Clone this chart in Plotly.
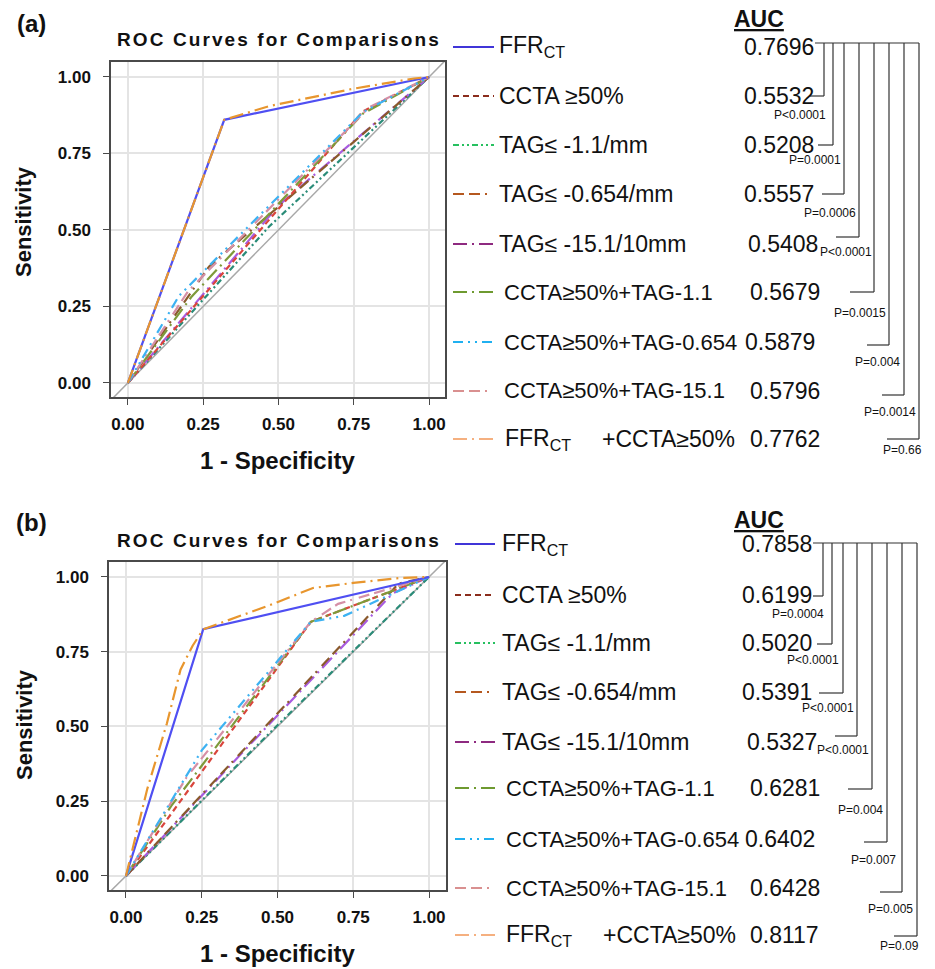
import plotly.graph_objects as go

W, H = 935, 969

# ---------------- data ----------------
legend_labels = ["FFR<sub>CT</sub>", "CCTA ≥50%", "TAG≤ -1.1/mm", "TAG≤ -0.654/mm",
                 "TAG≤ -15.1/10mm", "CCTA≥50%+TAG-1.1", "CCTA≥50%+TAG-0.654",
                 "CCTA≥50%+TAG-15.1", "FFR<sub>CT</sub>"]
last_label_suffix = "+CCTA≥50%"

# panel (a) ROC points (1 - specificity, sensitivity)
a_fpr = [[0, 0.32, 1], [0, 0.78, 1], [0, 0.47, 1], [0, 0.27, 1], [0, 0.50, 1],
         [0, 0.21, 0.78, 1], [0, 0.17, 0.78, 1], [0, 0.20, 0.80, 1],
         [0, 0.32, 0.47, 0.75, 0.95, 1]]
a_tpr = [[0, 0.86, 1], [0, 0.887, 1], [0, 0.512, 1], [0, 0.381, 1], [0, 0.58, 1],
         [0, 0.28, 0.88, 1], [0, 0.285, 0.885, 1], [0, 0.30, 0.90, 1],
         [0, 0.86, 0.905, 0.962, 0.995, 1]]
# panel (b)
b_fpr = [[0, 0.255, 1], [0, 0.61, 1], [0, 0.50, 1], [0, 0.90, 1], [0, 0.88, 1],
         [0, 0.15, 0.61, 1], [0, 0.25, 0.61, 0.72, 1], [0, 0.20, 0.61, 0.70, 1],
         [0, 0.07, 0.135, 0.18, 0.22, 0.255, 0.475, 0.617, 0.75, 0.91, 1]]
b_tpr = [[0, 0.825, 1], [0, 0.85, 1], [0, 0.504, 1], [0, 0.978, 1], [0, 0.945, 1],
         [0, 0.235, 0.85, 1], [0, 0.42, 0.85, 0.87, 1], [0, 0.33, 0.85, 0.91, 1],
         [0, 0.29, 0.51, 0.69, 0.77, 0.825, 0.906, 0.963, 0.98, 0.997, 1]]

auc_a = ["0.7696", "0.5532", "0.5208", "0.5557", "0.5408", "0.5679", "0.5879", "0.5796", "0.7762"]
auc_b = ["0.7858", "0.6199", "0.5020", "0.5391", "0.5327", "0.6281", "0.6402", "0.6428", "0.8117"]
p_a = ["P<0.0001", "P=0.0001", "P=0.0006", "P<0.0001", "P=0.0015", "P=0.004", "P=0.0014", "P=0.66"]
p_b = ["P=0.0004", "P<0.0001", "P<0.0001", "P<0.0001", "P=0.004", "P=0.007", "P=0.005", "P=0.09"]

tick_vals = [0, 0.25, 0.5, 0.75, 1.0]
tick_text = ["0.00", "0.25", "0.50", "0.75", "1.00"]

# ---------------- styles ----------------
plot_colors = ["#4F4FF2", "#D9453C", "#2A8C78", "#8A5A2C", "#A85BE0",
               "#7E9A3A", "#3DB2F2", "#D58FA6", "#E8962E"]
legend_colors = ["#4035D8", "#8B2D1C", "#27C060", "#B5581F", "#8E2A80",
                 "#6E9A30", "#20B0F0", "#D99090", "#F5B080"]
dashes = ["solid", "6px,4px", "6px,3px,2px,3px,2px,3px", "11px,5px,11px,5px,2px,7px",
          "14px,5px,2px,5px", "14px,5px,2px,5px", "10px,5px,2px,5px,2px,5px",
          "11px,5px,11px,5px,2px,7px", "14px,5px,2px,5px"]
legend_font_sizes = [23, 23, 23, 23, 23, 22, 22, 22, 23]
draw_order = [2, 4, 3, 1, 5, 7, 6, 0, 8]

FONT = "Arial, Liberation Sans, sans-serif"


def px(p):
    return p / W


def py(p):
    return 1 - p / H


fig = go.Figure()

panels = [
    dict(xa="x", ya="y", fpr=a_fpr, tpr=a_tpr),
    dict(xa="x2", ya="y2", fpr=b_fpr, tpr=b_tpr),
]

for pnl in panels:
    fig.add_trace(go.Scatter(x=[-0.1, 1.1], y=[-0.1, 1.1], mode="lines",
                             line=dict(color="#A8A8A8", width=1.5),
                             xaxis=pnl["xa"], yaxis=pnl["ya"], showlegend=False,
                             hoverinfo="skip"))
    for i in draw_order:
        fig.add_trace(go.Scatter(x=pnl["fpr"][i], y=pnl["tpr"][i], mode="lines",
                                 line=dict(color=plot_colors[i], width=2.2, dash=dashes[i]),
                                 xaxis=pnl["xa"], yaxis=pnl["ya"], showlegend=False))

axis_common = dict(tickvals=tick_vals, ticktext=tick_text, showgrid=True,
                   gridcolor="#E4E4E4", gridwidth=1.5, zeroline=False,
                   showline=True, mirror=True, linecolor="#4A4A4A", linewidth=1.5,
                   ticks="outside", ticklen=6, tickcolor="#4A4A4A", tickwidth=1.2,
                   tickfont=dict(family=FONT, size=17, color="#111", weight="bold"))

fig.update_layout(
    width=W, height=H, margin=dict(l=0, r=0, t=0, b=0),
    paper_bgcolor="white", plot_bgcolor="white", showlegend=False,
    xaxis=dict(domain=[px(111), px(445)], range=[-0.056, 1.053], anchor="y",
               ticklabelstandoff=5, **axis_common),
    yaxis=dict(domain=[py(397), py(62)], range=[-0.046, 1.049], anchor="x",
               ticklabelstandoff=9, **axis_common),
    xaxis2=dict(domain=[px(109), px(446)], range=[-0.056, 1.056], anchor="y2",
                ticklabelstandoff=5, **axis_common),
    yaxis2=dict(domain=[py(890), py(562)], range=[-0.047, 1.05], anchor="x2",
                ticklabelstandoff=9, **axis_common),
)

ann = []
shapes = []


def text(x, y, s, size, bold=False, xanchor="center", angle=0, color="#111"):
    ann.append(dict(x=px(x), y=py(y), xref="paper", yref="paper", text=s, showarrow=False,
                    xanchor=xanchor, yanchor="middle", textangle=angle,
                    font=dict(family=FONT, size=size, color=color,
                              weight="bold" if bold else "normal")))


def hline(x0, x1, y, color="#333", width=1.2, dash="solid"):
    shapes.append(dict(type="line", xref="paper", yref="paper", x0=px(x0), x1=px(x1),
                       y0=py(y), y1=py(y), line=dict(color=color, width=width, dash=dash)))


def vline(x, y0, y1, color="#333", width=1.2):
    shapes.append(dict(type="line", xref="paper", yref="paper", x0=px(x), x1=px(x),
                       y0=py(y0), y1=py(y1), line=dict(color=color, width=width)))


# panel layout constants (pixels)
panel_geo = [
    dict(label="(a)", label_y=23, title_y=39, xt_y=460, yt_y=222,
         rows=[47, 96, 145, 194, 244, 292, 342, 391, 439], leg_x0=453, leg_x1=494,
         txt_x=[497, 497, 497, 497, 497, 502, 502, 502, 503], suffix_x=600,
         auc_x=[742, 742, 742, 742, 746, 748, 743, 748, 748], auc_hdr_y=19,
         auc=auc_a, p=p_a, top_y=43, top_x0=815,
         vx=[824, 833, 844, 859, 874, 889, 904, 919],
         vb=[96, 145, 194, 237, 292, 345, 395, 439],
         hx=[810, 818, 822, 836, 850, 867, 882, 887],
         plab=[(800, 115), (815, 160), (830, 213), (846, 252), (860, 313),
               (877, 362), (890, 412), (902, 450)]),
    dict(label="(b)", label_y=522, title_y=540, xt_y=953, yt_y=725,
         rows=[544, 595, 643, 692, 742, 788, 839, 888, 935], leg_x0=455, leg_x1=495,
         txt_x=[500, 500, 500, 500, 500, 504, 504, 504, 504], suffix_x=601,
         auc_x=[740, 740, 740, 740, 745, 748, 743, 748, 748], auc_hdr_y=520,
         auc=auc_b, p=p_b, top_y=543, top_x0=813,
         vx=[823, 832, 843, 857, 872, 887, 902, 917],
         vb=[596, 644, 693, 736, 789, 842, 892, 936],
         hx=[813, 817, 819, 835, 848, 864, 880, 894],
         plab=[(798, 614), (813, 660), (828, 708), (843, 750), (860, 810),
               (873, 860), (890, 909), (899, 946)]),
]

for g in panel_geo:
    text(31, g["label_y"], g["label"], 24, bold=True)
    text(279, g["title_y"],
         '<span style="letter-spacing:2.1px">ROC Curves for Comparisons</span>', 19, bold=True)
    text(277, g["xt_y"], "1 - Specificity", 24, bold=True)
    text(24, g["yt_y"], "Sensitivity", 22, bold=True, angle=-90)
    # legend
    for i, r in enumerate(g["rows"]):
        hline(g["leg_x0"], g["leg_x1"], r, color=legend_colors[i], width=1.8, dash=dashes[i])
        text(g["txt_x"][i], r, legend_labels[i], legend_font_sizes[i], xanchor="left")
        text(g["auc_x"][i], r, g["auc"][i], 23, xanchor="left")
    text(g["suffix_x"], g["rows"][-1], last_label_suffix, 23, xanchor="left")
    # AUC header
    text(759, g["auc_hdr_y"], "<u>AUC</u>", 23, bold=True)
    # brackets
    hline(g["top_x0"], g["vx"][-1], g["top_y"])
    for k in range(8):
        vline(g["vx"][k], g["top_y"], g["vb"][k])
        hline(g["hx"][k], g["vx"][k], g["vb"][k])
        text(g["plab"][k][0], g["plab"][k][1], g["p"][k], 12)

fig.update_layout(annotations=ann, shapes=shapes)
fig.write_html("out.html", config={"displayModeBar": False},
               post_script="document.body.style.margin='0';document.body.style.overflow='hidden';")
